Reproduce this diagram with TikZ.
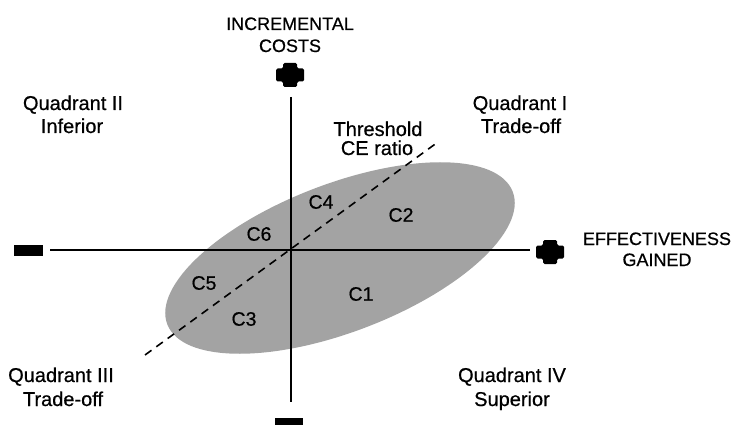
\documentclass[tikz,border=0pt]{standalone}
\usepackage{fontspec}
\setmainfont{Liberation Sans}
\newfontfamily\scanfont{Liberation Sans}[FakeBold=0.6]
\begin{document}
\begin{tikzpicture}[x=1pt,y=-1pt,
  axisline/.style={line width=1.7pt,black},
  thresh/.style={line width=1.6pt,black,dash pattern=on 8pt off 6pt},
  cloud/.style={fill=black!36},
  quadlbl/.style={anchor=base,inner sep=0pt,font=\scanfont\fontsize{20}{24}\selectfont},
  axlbl/.style={anchor=base,inner sep=0pt,font=\scanfont\fontsize{18}{22}\selectfont},
  clbl/.style={anchor=center,inner sep=0pt,font=\scanfont\fontsize{19.5}{22}\selectfont},
  plussign/.pic={\fill[rounded corners=1.5pt] (-7,-12) -- (7,-12) -- (7,-6.5) -- (14,-6.5) -- (14,6.5) -- (7,6.5) -- (7,12) -- (-7,12) -- (-7,6.5) -- (-14,6.5) -- (-14,-6.5) -- (-7,-6.5) -- cycle;}
]
\useasboundingbox (0,0) rectangle (734,425);
\fill[white] (0,0) rectangle (734,425);

% cloud of estimates
\fill[cloud,shift={(340,258)},rotate=21] (0,0) ellipse [x radius=185, y radius=74];

% coordinates
\coordinate (O) at (291,250);
\coordinate (xl) at (50,250);
\coordinate (xr) at (530,250);
\coordinate (yt) at (291,97);
\coordinate (yb) at (291,402);
\coordinate (dl) at (145,355);
\coordinate (du) at (438,142);

% axes
\draw[axisline] (xl) -- (xr);
\draw[axisline] (yt) -- (yb);
\draw[thresh] (dl) -- (du);

% signs
\pic at (290,75) {plussign};
\pic at (550,252) {plussign};
\fill (14,245) rectangle (43,256);
\fill (275,418) rectangle (303,429);

% axis labels
\node[axlbl] (inc1) at (290,30) {INCREMENTAL};
\node[axlbl] (inc2) at (290,52) {COSTS};
\node[axlbl] (eff1) at (657,245) {EFFECTIVENESS};
\node[axlbl] (eff2) at (657,266) {GAINED};

% quadrant labels
\node[quadlbl] (q2a) at (73,110) {Quadrant II};
\node[quadlbl] (q2b) at (72,133) {Inferior};
\node[quadlbl] (q1a) at (520,110) {Quadrant I};
\node[quadlbl] (q1b) at (521,133) {Trade-off};
\node[quadlbl] (q3a) at (61,382) {Quadrant III};
\node[quadlbl] (q3b) at (63,406) {Trade-off};
\node[quadlbl] (q4a) at (512,382) {Quadrant IV};
\node[quadlbl] (q4b) at (512,406) {Superior};
\node[quadlbl] (th1) at (378,136) {Threshold};
\node[quadlbl] (th2) at (377,155) {CE ratio};

% strategy labels
\node[clbl] (c4) at (321,202) {C4};
\node[clbl] (c2) at (401,215) {C2};
\node[clbl] (c6) at (259,234) {C6};
\node[clbl] (c5) at (204,283) {C5};
\node[clbl] (c1) at (361,294) {C1};
\node[clbl] (c3) at (244,319) {C3};
\end{tikzpicture}
\end{document}
